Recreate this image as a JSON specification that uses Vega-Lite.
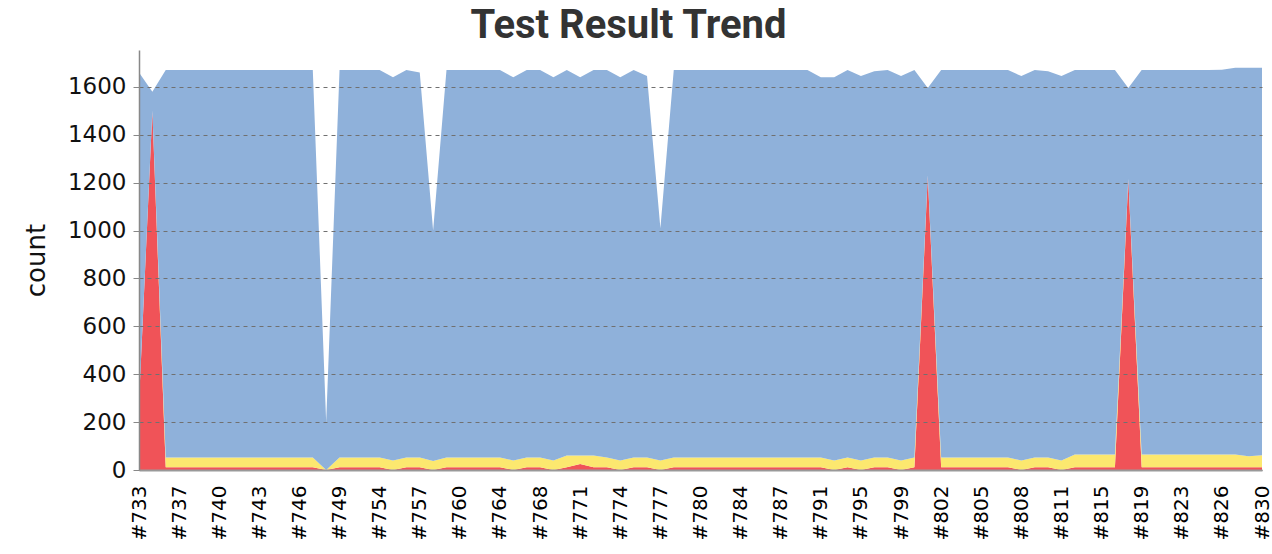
{
  "$schema": "https://vega.github.io/schema/vega-lite/v6.json",
  "width": 1123,
  "height": 420,
  "autosize": {"type": "none"},
  "padding": {"left": 139, "top": 50, "right": 10, "bottom": 84},
  "background": "white",
  "title": {"text": "Test Result Trend", "font": "Roboto", "fontSize": 40, "fontWeight": "bold", "color": "#333333", "anchor": "middle", "dx": -72, "offset": 4},
  "datasets": {
    "ord": [{"k": "F", "o": 0}, {"k": "S", "o": 1}, {"k": "P", "o": 2}],
    "builds": [
      {"b": "#733", "F": 280, "S": 0, "P": 1380},
      {"b": "#734", "F": 1500, "S": 0, "P": 80},
      {"b": "#735", "F": 12, "S": 40, "P": 1618},
      {"b": "#737", "F": 12, "S": 40, "P": 1618},
      {"b": "#738", "F": 12, "S": 40, "P": 1618},
      {"b": "#739", "F": 12, "S": 40, "P": 1618},
      {"b": "#740", "F": 12, "S": 40, "P": 1618},
      {"b": "#741", "F": 12, "S": 40, "P": 1618},
      {"b": "#742", "F": 12, "S": 40, "P": 1618},
      {"b": "#743", "F": 12, "S": 40, "P": 1618},
      {"b": "#744", "F": 12, "S": 40, "P": 1618},
      {"b": "#745", "F": 12, "S": 40, "P": 1618},
      {"b": "#746", "F": 12, "S": 40, "P": 1618},
      {"b": "#747", "F": 12, "S": 40, "P": 1618},
      {"b": "#748", "F": 0, "S": 0, "P": 200},
      {"b": "#749", "F": 12, "S": 40, "P": 1618},
      {"b": "#751", "F": 12, "S": 40, "P": 1618},
      {"b": "#752", "F": 12, "S": 40, "P": 1618},
      {"b": "#754", "F": 12, "S": 40, "P": 1618},
      {"b": "#755", "F": 0, "S": 40, "P": 1600},
      {"b": "#756", "F": 12, "S": 40, "P": 1618},
      {"b": "#757", "F": 12, "S": 40, "P": 1608},
      {"b": "#758", "F": 0, "S": 38, "P": 962},
      {"b": "#759", "F": 12, "S": 40, "P": 1618},
      {"b": "#760", "F": 12, "S": 40, "P": 1618},
      {"b": "#761", "F": 12, "S": 40, "P": 1618},
      {"b": "#762", "F": 12, "S": 40, "P": 1618},
      {"b": "#764", "F": 12, "S": 40, "P": 1618},
      {"b": "#765", "F": 0, "S": 40, "P": 1600},
      {"b": "#766", "F": 12, "S": 40, "P": 1618},
      {"b": "#768", "F": 12, "S": 40, "P": 1618},
      {"b": "#769", "F": 0, "S": 40, "P": 1600},
      {"b": "#770", "F": 12, "S": 49, "P": 1609},
      {"b": "#771", "F": 25, "S": 36, "P": 1579},
      {"b": "#772", "F": 12, "S": 49, "P": 1609},
      {"b": "#773", "F": 12, "S": 40, "P": 1618},
      {"b": "#774", "F": 0, "S": 40, "P": 1600},
      {"b": "#775", "F": 12, "S": 40, "P": 1618},
      {"b": "#776", "F": 12, "S": 40, "P": 1593},
      {"b": "#777", "F": 0, "S": 40, "P": 970},
      {"b": "#778", "F": 12, "S": 40, "P": 1618},
      {"b": "#779", "F": 12, "S": 40, "P": 1618},
      {"b": "#780", "F": 12, "S": 40, "P": 1618},
      {"b": "#781", "F": 12, "S": 40, "P": 1618},
      {"b": "#782", "F": 12, "S": 40, "P": 1618},
      {"b": "#784", "F": 12, "S": 40, "P": 1618},
      {"b": "#785", "F": 12, "S": 40, "P": 1618},
      {"b": "#786", "F": 12, "S": 40, "P": 1618},
      {"b": "#787", "F": 12, "S": 40, "P": 1618},
      {"b": "#788", "F": 12, "S": 40, "P": 1618},
      {"b": "#789", "F": 12, "S": 40, "P": 1618},
      {"b": "#791", "F": 12, "S": 40, "P": 1588},
      {"b": "#792", "F": 0, "S": 40, "P": 1600},
      {"b": "#793", "F": 12, "S": 40, "P": 1618},
      {"b": "#795", "F": 0, "S": 40, "P": 1605},
      {"b": "#796", "F": 12, "S": 40, "P": 1613},
      {"b": "#797", "F": 12, "S": 40, "P": 1618},
      {"b": "#799", "F": 0, "S": 40, "P": 1605},
      {"b": "#800", "F": 12, "S": 40, "P": 1618},
      {"b": "#801", "F": 1230, "S": 0, "P": 365},
      {"b": "#802", "F": 12, "S": 40, "P": 1618},
      {"b": "#803", "F": 12, "S": 40, "P": 1618},
      {"b": "#804", "F": 12, "S": 40, "P": 1618},
      {"b": "#805", "F": 12, "S": 40, "P": 1618},
      {"b": "#806", "F": 12, "S": 40, "P": 1618},
      {"b": "#807", "F": 12, "S": 40, "P": 1618},
      {"b": "#808", "F": 0, "S": 40, "P": 1605},
      {"b": "#809", "F": 12, "S": 40, "P": 1618},
      {"b": "#810", "F": 12, "S": 40, "P": 1613},
      {"b": "#811", "F": 0, "S": 40, "P": 1605},
      {"b": "#812", "F": 12, "S": 53, "P": 1605},
      {"b": "#813", "F": 12, "S": 53, "P": 1605},
      {"b": "#815", "F": 12, "S": 53, "P": 1605},
      {"b": "#816", "F": 12, "S": 53, "P": 1605},
      {"b": "#817", "F": 1215, "S": 0, "P": 380},
      {"b": "#819", "F": 12, "S": 53, "P": 1605},
      {"b": "#820", "F": 12, "S": 53, "P": 1605},
      {"b": "#821", "F": 12, "S": 53, "P": 1605},
      {"b": "#823", "F": 12, "S": 53, "P": 1605},
      {"b": "#824", "F": 12, "S": 53, "P": 1605},
      {"b": "#825", "F": 12, "S": 53, "P": 1605},
      {"b": "#826", "F": 12, "S": 53, "P": 1607},
      {"b": "#827", "F": 12, "S": 53, "P": 1615},
      {"b": "#828", "F": 12, "S": 45, "P": 1623},
      {"b": "#830", "F": 12, "S": 50, "P": 1618}
    ]
  },
  "data": {"name": "builds"},
  "transform": [
    {"fold": ["F", "S", "P"], "as": ["k", "v"]},
    {"lookup": "k", "from": {"data": {"name": "ord"}, "key": "k", "fields": ["o"]}}
  ],
  "mark": {"type": "area", "interpolate": "linear", "opacity": 1},
  "encoding": {
    "x": {
      "field": "b", "type": "ordinal", "sort": null,
      "scale": {"type": "point", "padding": 0},
      "axis": {
        "title": null,
        "values": ["#733","#737","#740","#743","#746","#749","#754","#757","#760","#764","#768","#771","#774","#777","#780","#784","#787","#791","#795","#799","#802","#805","#808","#811","#815","#819","#823","#826","#830"],
        "labelAngle": -90, "labelFont": "DejaVu Sans", "labelFontSize": 20, "labelColor": "#000000",
        "labelPadding": 15, "ticks": false, "grid": false,
        "domainColor": "#999999", "domainWidth": 2, "zindex": 1
      }
    },
    "y": {
      "field": "v", "type": "quantitative", "stack": "zero",
      "scale": {"domain": [0, 1754], "nice": false, "zero": true},
      "axis": {
        "title": "count", "titleFont": "DejaVu Sans", "titleFontSize": 26, "titleFontWeight": "normal", "titleColor": "#111111", "titlePadding": 18,
        "values": [0, 200, 400, 600, 800, 1000, 1200, 1400, 1600], "format": "d",
        "labelFont": "DejaVu Sans", "labelFontSize": 23, "labelColor": "#111111", "labelPadding": 7,
        "tickSize": 6, "tickColor": "#888888",
        "grid": true, "gridDash": [4, 4], "gridColor": "#707070", "gridWidth": 1,
        "domainColor": "#888888", "domainWidth": 1.5, "zindex": 1
      }
    },
    "color": {
      "field": "k", "type": "nominal",
      "scale": {"domain": ["F", "S", "P"], "range": ["#F05358", "#FCE86F", "#8FB1DA"]},
      "legend": null
    },
    "order": {"field": "o", "type": "quantitative", "sort": "ascending"}
  },
  "config": {"view": {"stroke": null}}
}
